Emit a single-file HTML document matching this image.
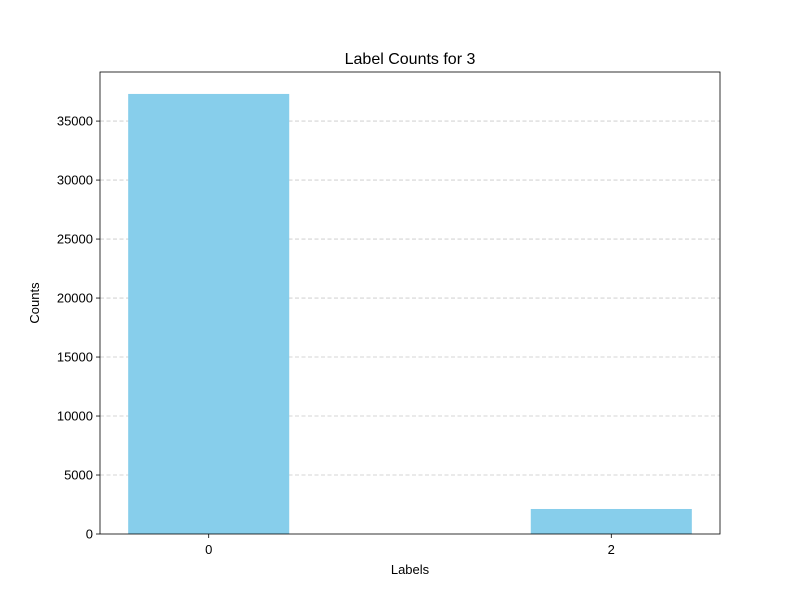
<!DOCTYPE html>
<html><head><meta charset="utf-8"><style>
body{margin:0;background:#fff;}
svg text{font-family:"Liberation Sans","DejaVu Sans",sans-serif;fill:#000;}
</style></head><body>
<svg id="chart" width="800" height="600" viewBox="0 0 800 600">
<rect width="800" height="600" fill="#fff"/>
<g id="grid"></g><g id="bars"></g><g id="axes"></g>
<text x="410" y="64" text-anchor="middle" font-size="16">Label Counts for 3</text>
<text x="410" y="574" text-anchor="middle" font-size="13">Labels</text>
<text transform="translate(39,303) rotate(-90)" text-anchor="middle" font-size="13">Counts</text>
</svg>
<script>
const categories = [0, 2];
const counts = [37300, 2120];
const yTicks = [0, 5000, 10000, 15000, 20000, 25000, 30000, 35000];
const xTicks = [0, 2];

const L=100,R=720,T=72,B=534;
const xMin=-0.54,xMax=2.54,yMax=39160;
const xs=v=>L+(v-xMin)/(xMax-xMin)*(R-L);
const ys=v=>B-v/yMax*(B-T);
const NS="http://www.w3.org/2000/svg";
function mk(parent,tag,attrs){const e=document.createElementNS(NS,tag);for(const k in attrs)e.setAttribute(k,attrs[k]);document.getElementById(parent).appendChild(e);return e;}

yTicks.forEach(t=>{
  const y=ys(t);
  if(t>0){const g=mk('grid','line',{x1:L,x2:R,y1:y,y2:y,stroke:'#c8c8c8','stroke-dasharray':'4,2.5','stroke-width':0.8});
  
  }
  const tk=mk('axes','line',{x1:L-4,x2:L,y1:y,y2:y,stroke:'#000','stroke-width':0.8});
  
  
  const tx=mk('axes','text',{x:L-7,y:y+4.5,'text-anchor':'end','font-size':13});
  tx.textContent=t;
  
  
});
categories.forEach((c,i)=>{
  const x0=xs(c-0.4),x1=xs(c+0.4);
  const r=mk('bars','rect',{x:x0,y:ys(counts[i]),width:x1-x0,height:B-ys(counts[i]),fill:'#87ceeb'});
  
  
});
xTicks.forEach(t=>{
  const x=xs(t);
  const tk=mk('axes','line',{x1:x,x2:x,y1:B,y2:B+4,stroke:'#000','stroke-width':0.8});
  
  
  const tx=mk('axes','text',{x:x,y:B+20,'text-anchor':'middle','font-size':13});
  tx.textContent=t;
  
  
});
const fr=mk('axes','rect',{x:L,y:T,width:R-L,height:B-T,fill:'none',stroke:'#000','stroke-width':0.8});


</script>
</body></html>
